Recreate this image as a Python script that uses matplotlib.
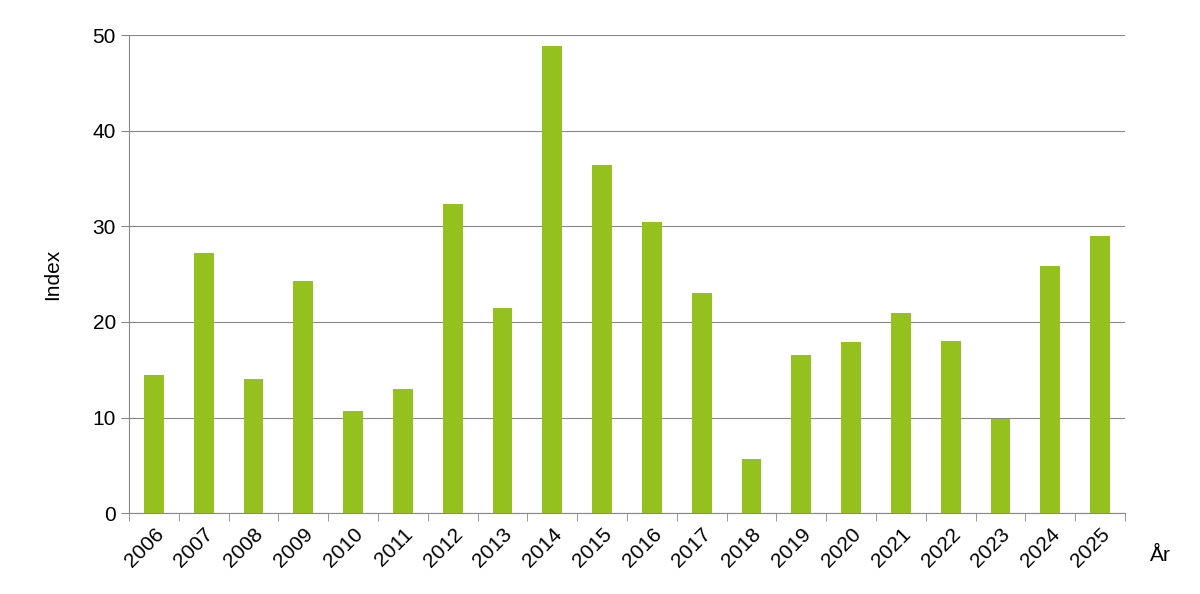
import matplotlib
matplotlib.use("Agg")
import matplotlib.pyplot as plt
import numpy as np

years = [str(y) for y in range(2006, 2026)]
values = [14.5, 27.2, 14.0, 24.3, 10.7, 13.0, 32.3, 21.5, 48.9, 36.4,
          30.5, 23.0, 5.7, 16.5, 17.9, 20.9, 18.0, 9.8, 25.9, 29.0]
yticks = [0, 10, 20, 30, 40, 50]

plt.rcParams['font.family'] = ['Liberation Sans', 'DejaVu Sans']
fig = plt.figure(figsize=(12, 5.94), dpi=100)
ax = fig.add_axes([0.1075, 0.136, 0.83, 0.805])
x = np.arange(len(years))
ax.bar(x, values, width=0.4, color='#95C11F', zorder=3)
ax.set_xlim(-0.5, len(years) - 0.5)
ax.set_ylim(0, 50)
ax.set_yticks(yticks)
ax.grid(axis='y', color='#888888', linewidth=0.8, zorder=0)
ax.set_xticks(x)
ax.set_xticklabels(years, rotation=45, ha='right', rotation_mode='anchor', fontsize=15)
ax.tick_params(axis='x', length=0, pad=8)
ax.set_xticks(np.arange(-0.5, len(years)), minor=True)
ax.tick_params(axis='x', which='minor', length=6, color='#888888')
ax.tick_params(axis='y', labelsize=15, length=6, color='#888888')
for s in ['top', 'right']:
    ax.spines[s].set_visible(False)
for s in ['left', 'bottom']:
    ax.spines[s].set_color('#888888')
ax.set_ylabel('Index', fontsize=15, labelpad=22)
fig.text(0.967, 0.065, 'År', fontsize=15, ha='center', va='center')
fig.savefig('out.png')
